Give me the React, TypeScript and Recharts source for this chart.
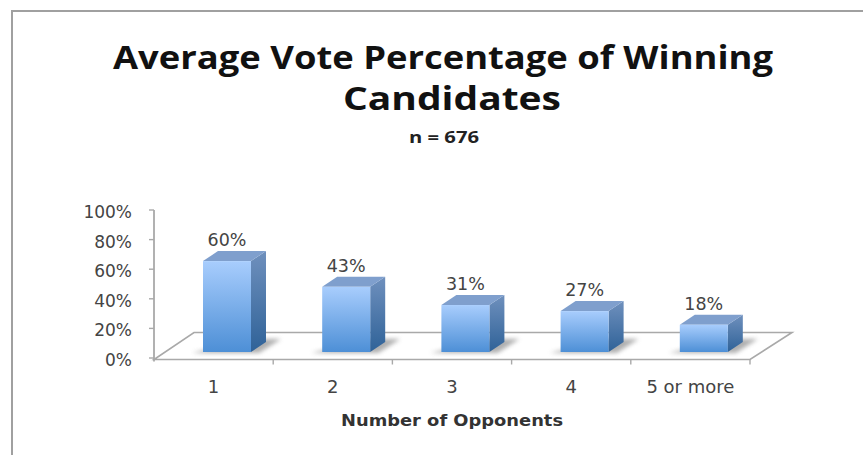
import { ComposedChart, Bar, Line, XAxis, YAxis, LabelList, usePlotArea } from "recharts";

const categories = ["1", "2", "3", "4", "5 or more"];
const votePercent = [60, 43, 31, 27, 18];
const percentTicks = [0, 20, 40, 60, 80, 100];

const chartData = categories.map((name, i) => ({ name, vote: votePercent[i] }));

const AXIS_COLOR = "#a9a9a9";
const LABEL_COLOR = "#444444";
const LABEL_FONT = "'DejaVu Sans', sans-serif";
const TITLE_FONT = "'Open Sans', sans-serif";

// how far the columns sit right of the band centre, and their extrusion
const BAR_SHIFT = 13;
const DEPTH_X = 15;
const DEPTH_Y = 10;

// floor of the pseudo-3D plot, with the tick marks between categories
function Floor() {
  const plot = usePlotArea();
  if (!plot) return null;
  const { x, y, width, height } = plot;
  const front = y + height + 1.5;
  const back = front - 27;
  const step = width / categories.length;
  return (
    <g>
      <polygon
        points={`${x},${front} ${x + width},${front} ${x + width + 42},${back} ${x + 40},${back}`}
        fill="#ffffff"
        stroke={AXIS_COLOR}
        strokeWidth={1.6}
      />
      <line x1={x} y1={y} x2={x} y2={front + 2} stroke={AXIS_COLOR} strokeWidth={1.8} />
      {categories.map((_, i) => (
        <line
          key={i}
          x1={x + step * (i + 1)}
          x2={x + step * (i + 1)}
          y1={front}
          y2={front + 5}
          stroke={AXIS_COLOR}
          strokeWidth={1.4}
        />
      ))}
    </g>
  );
}

function ColumnShape({ x, y, width, height }: any) {
  const left = x + BAR_SHIFT;
  const right = left + width;
  const bottom = y + height;
  return (
    <g>
      <polygon
        points={`${left - 11},${bottom + 1} ${right + 8},${bottom + 1} ${right + 30},${bottom - 13} ${right},${bottom - 13}`}
        fill="#7a7a7a"
        opacity={0.6}
        filter="url(#floorShadow)"
      />
      <polygon
        points={`${right},${y} ${right + DEPTH_X},${y - DEPTH_Y} ${right + DEPTH_X},${bottom - DEPTH_Y} ${right},${bottom}`}
        fill="url(#columnSide)"
      />
      <polygon
        points={`${left},${y} ${left + DEPTH_X},${y - DEPTH_Y} ${right + DEPTH_X},${y - DEPTH_Y} ${right},${y}`}
        fill="#7f9fcd"
      />
      <rect x={left} y={y} width={width} height={height} fill="url(#columnFront)" />
    </g>
  );
}

function ValueLabel({ x, y, width, value }: any) {
  return (
    <text
      x={x + BAR_SHIFT + width / 2}
      y={y - 15}
      textAnchor="middle"
      fontFamily={LABEL_FONT}
      fontSize={17.5}
      fill={LABEL_COLOR}
    >
      {value}%
    </text>
  );
}

export default function App() {
  return (
    <div style={{ position: "absolute", left: 0, top: 0, width: 863, height: 455, background: "#fff" }}>
      <div
        style={{
          position: "absolute",
          left: 11,
          top: 10,
          right: 0,
          bottom: 0,
          borderLeft: "2px solid #a0a0a0",
          borderTop: "2px solid #a0a0a0",
        }}
      />
      <div style={{ position: "absolute", left: 0, top: 0 }}>
        <ComposedChart
          width={863}
          height={455}
          data={chartData}
          margin={{ top: 210, right: 113, bottom: 47, left: 84 }}
          barSize={48}
        >
          <defs>
            <linearGradient id="columnFront" x1="0" y1="0" x2="0" y2="1">
              <stop offset="0%" stopColor="#a8cdfd" />
              <stop offset="100%" stopColor="#4d8fd6" />
            </linearGradient>
            <linearGradient id="columnSide" x1="0" y1="0" x2="0" y2="1">
              <stop offset="0%" stopColor="#6f90bd" />
              <stop offset="100%" stopColor="#2f6298" />
            </linearGradient>
            <filter id="floorShadow" x="-20%" y="-50%" width="140%" height="200%">
              <feGaussianBlur stdDeviation="2" />
            </filter>
          </defs>

          <text x={443} y={69} textAnchor="middle" textLength={660} lengthAdjust="spacingAndGlyphs" fontFamily={TITLE_FONT} fontWeight={700} fontSize={33} fill="#111">
            Average Vote Percentage of Winning
          </text>
          <text x={452} y={110} textAnchor="middle" textLength={218} lengthAdjust="spacingAndGlyphs" fontFamily={TITLE_FONT} fontWeight={700} fontSize={33} fill="#111">
            Candidates
          </text>
          <text x={444} y={143} textAnchor="middle" textLength={70} lengthAdjust="spacingAndGlyphs" fontFamily={TITLE_FONT} fontWeight={700} fontSize={16} fill="#222">
            n = 676
          </text>
          <text x={452} y={426} textAnchor="middle" textLength={222} lengthAdjust="spacingAndGlyphs" fontFamily={LABEL_FONT} fontWeight={700} fontSize={16} fill="#333">
            Number of Opponents
          </text>

          <Floor />

          <XAxis
            dataKey="name"
            height={50}
            axisLine={false}
            tickLine={false}
            interval={0}
            tickMargin={16}
            tick={{ fontFamily: LABEL_FONT, fontSize: 18, fill: LABEL_COLOR }}
          />
          <YAxis
            yAxisId="percent"
            width={70}
            domain={[0, 100]}
            ticks={percentTicks}
            tickFormatter={(v: number) => `${v}%`}
            axisLine={false}
            tickLine={{ stroke: AXIS_COLOR, strokeWidth: 1.4 }}
            tickSize={5}
            tickMargin={17}
            tick={{ fontFamily: LABEL_FONT, fontSize: 17, fill: LABEL_COLOR, dy: 2 }}
          />
          {/* columns stand further forward on the floor than the axis zero */}
          <YAxis yAxisId="columns" hide width={0} domain={[-3.96, 93.73]} />

          {/* unpainted series so the percent axis has something to scale against */}
          <Line
            yAxisId="percent"
            dataKey="vote"
            stroke="none"
            dot={false}
            activeDot={false}
            isAnimationActive={false}
          />
          <Bar
            yAxisId="columns"
            dataKey="vote"
            isAnimationActive={false}
            shape={<ColumnShape />}
          >
            <LabelList dataKey="vote" content={<ValueLabel />} />
          </Bar>
        </ComposedChart>
      </div>
    </div>
  );
}
